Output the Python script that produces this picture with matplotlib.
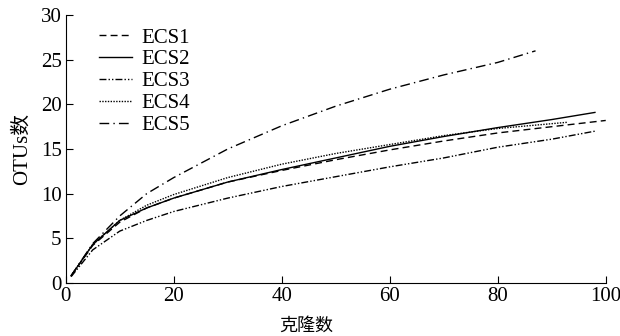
import matplotlib
matplotlib.use('Agg')
import matplotlib.pyplot as plt

plt.rcParams['font.family'] = ['Liberation Serif', 'Noto Sans CJK SC']

x_full = [1, 5, 10, 15, 20, 30, 40, 50, 60, 70, 80, 90]

ecs1_x = x_full + [100]
ecs1_y = [0.8, 4.2, 6.8, 8.4, 9.5, 11.3, 12.6, 13.8, 14.9, 15.9, 16.8, 17.5, 18.2]

ecs2_x = x_full + [98]
ecs2_y = [0.8, 4.3, 7.0, 8.4, 9.5, 11.3, 12.7, 14.0, 15.3, 16.4, 17.4, 18.3, 19.1]

ecs3_x = x_full + [98]
ecs3_y = [0.7, 3.7, 5.8, 7.0, 8.0, 9.5, 10.8, 11.9, 13.0, 14.0, 15.2, 16.1, 17.0]

ecs4_x = x_full[:11] + [93]
ecs4_y = [0.8, 4.3, 7.0, 8.7, 9.9, 11.8, 13.3, 14.5, 15.5, 16.5, 17.3, 18.0]

ecs5_x = x_full[:11] + [87]
ecs5_y = [0.8, 4.4, 7.5, 10.0, 11.8, 15.0, 17.6, 19.8, 21.7, 23.3, 24.7, 26.0]

fig = plt.figure(figsize=(6.2, 3.36), dpi=100)
ax = fig.add_axes([0.106, 0.158, 0.871, 0.797])

lw = 1.0
ax.plot(ecs1_x, ecs1_y, color='black', lw=lw, linestyle=(0, (5, 3)), label='ECS1')
ax.plot(ecs2_x, ecs2_y, color='black', lw=lw, linestyle='-', label='ECS2')
ax.plot(ecs3_x, ecs3_y, color='black', lw=lw, linestyle=(0, (5, 1.5, 1, 1.5, 1, 1.5)), label='ECS3')
ax.plot(ecs4_x, ecs4_y, color='black', lw=lw, linestyle=(0, (1, 1)), label='ECS4')
ax.plot(ecs5_x, ecs5_y, color='black', lw=lw, linestyle=(0, (7, 3, 1, 3)), label='ECS5')

ax.set_xlim(0, 100)
ax.set_ylim(0, 30)
ax.set_xticks([0, 20, 40, 60, 80, 100])
ax.set_yticks([0, 5, 10, 15, 20, 25, 30])
ax.spines['top'].set_visible(False)
ax.spines['right'].set_visible(False)
ax.tick_params(direction='in', length=5, labelsize=15, pad=3)
ax.set_xlabel('克隆数', fontsize=13)
ax.xaxis.set_label_coords(0.445, -0.13)
ax.set_ylabel('OTUs数', fontsize=15)
ax.yaxis.set_label_coords(-0.062, 0.5)

ax.legend(loc='upper left', bbox_to_anchor=(0.027, 1.022), frameon=False, fontsize=15,
          handlelength=1.6, labelspacing=0.11, handletextpad=0.45)

fig.savefig('out.png', dpi=100)
